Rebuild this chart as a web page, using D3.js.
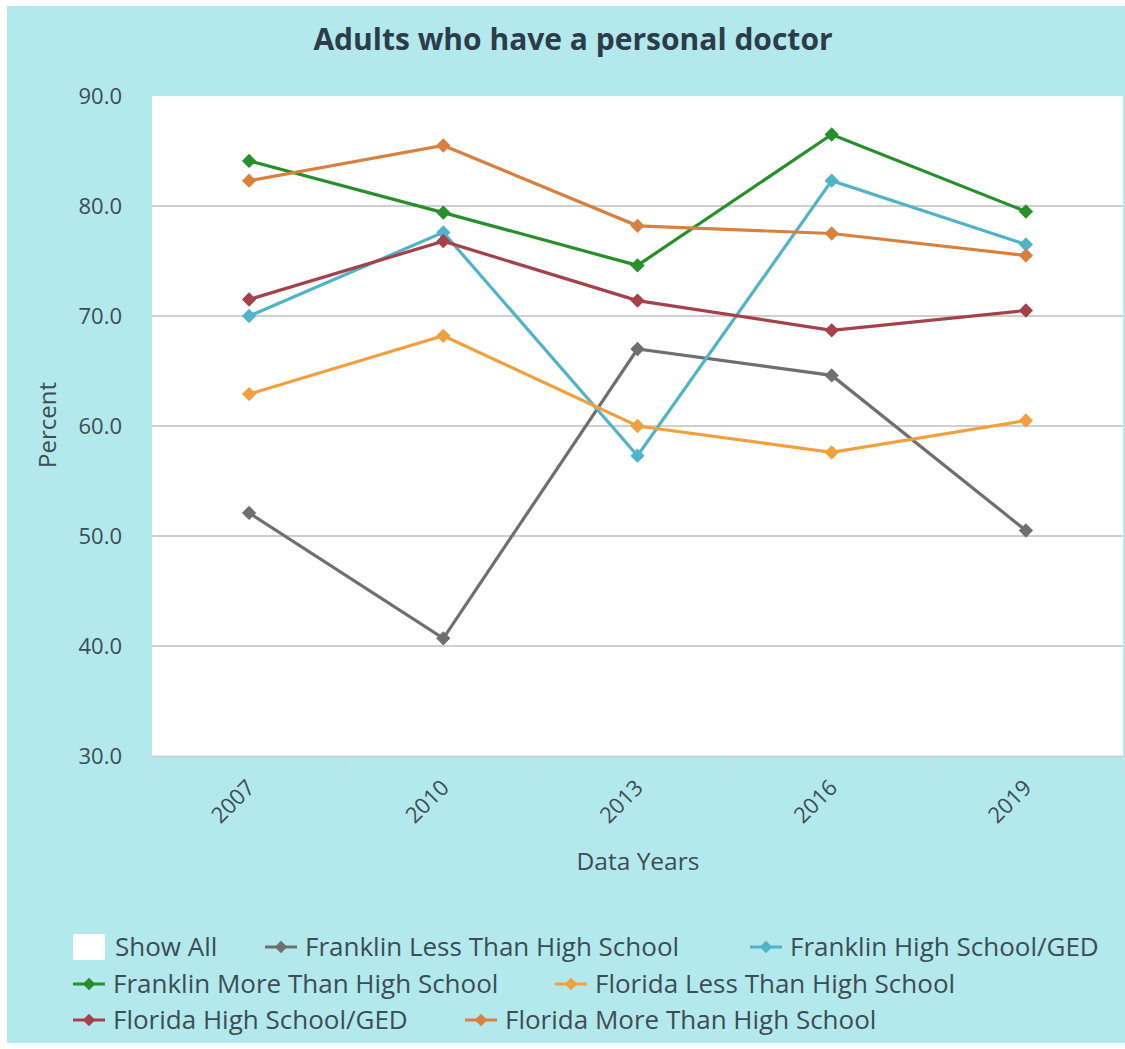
<!DOCTYPE html>
<html>
<head>
<meta charset="utf-8">
<script src="https://cdn.jsdelivr.net/npm/d3@7"></script>
<style>
  body { margin: 0; background: #fff; }
  text { font-family: "Open Sans", "Noto Sans", sans-serif; }
</style>
</head>
<body>
<div id="chart"></div>
<script>
// chart data
const years = ["2007", "2010", "2013", "2016", "2019"];
const seriesNames = [
    "Franklin Less Than High School",
    "Franklin High School/GED",
    "Franklin More Than High School",
    "Florida Less Than High School",
    "Florida High School/GED",
    "Florida More Than High School"
];
const franklinLess = [52.1, 40.7, 67.0, 64.6, 50.5];
const franklinHS = [70.0, 77.6, 57.3, 82.3, 76.5];
const franklinMore = [84.1, 79.4, 74.6, 86.5, 79.5];
const floridaLess = [62.9, 68.2, 60.0, 57.6, 60.5];
const floridaHS = [71.5, 76.8, 71.4, 68.7, 70.5];
const floridaMore = [82.3, 85.5, 78.2, 77.5, 75.5];
const yTicks = [30, 40, 50, 60, 70, 80, 90];

const seriesValues = [franklinLess, franklinHS, franklinMore, floridaLess, floridaHS, floridaMore];
const colors = ["#6f6f6f", "#4fb4c8", "#27902b", "#f2a03d", "#a5414a", "#d9803f"];

const width = 1125, height = 1049;
const plot = { left: 152, right: 1123, top: 96, bottom: 756 };
const textColor = "#3b4d55";

const svg = d3.select("#chart").append("svg")
    .attr("width", width)
    .attr("height", height);

// background panel
svg.append("rect")
    .attr("x", 7).attr("y", 6)
    .attr("width", width - 7).attr("height", 1037)
    .attr("fill", "#b3e9ec");

svg.append("rect")
    .attr("x", plot.left).attr("y", plot.top)
    .attr("width", plot.right - plot.left)
    .attr("height", plot.bottom - plot.top)
    .attr("fill", "#fff");

const x = d3.scaleBand().domain(years).range([plot.left, plot.right]);
const y = d3.scaleLinear().domain([30, 90]).range([plot.bottom, plot.top]);

// gridlines
svg.append("g")
    .selectAll("line")
    .data(yTicks.filter(t => t > 30 && t < 90))
    .join("line")
    .attr("x1", plot.left).attr("x2", plot.right)
    .attr("y1", d => y(d)).attr("y2", d => y(d))
    .attr("stroke", "#cfcfcf")
    .attr("stroke-width", 2);

// y axis
const yAxis = svg.append("g")
    .attr("transform", `translate(${plot.left},0)`)
    .call(d3.axisLeft(y).tickValues(yTicks).tickFormat(d3.format(".1f")).tickSize(0).tickPadding(30));
yAxis.select(".domain").remove();
yAxis.selectAll("text")
    .attr("font-size", 22)
    .attr("fill", textColor)
    .style("font-family", "'Open Sans', sans-serif");

// x axis
const xAxis = svg.append("g")
    .attr("transform", `translate(0,${plot.bottom})`)
    .call(d3.axisBottom(x).tickSize(0).tickFormat(""));
xAxis.select(".domain").attr("stroke", "#c8d4d6").attr("stroke-width", 2);

// tick marks at band edges
svg.append("g")
    .selectAll("line")
    .data(years.concat(["end"]))
    .join("line")
    .attr("x1", (d, i) => plot.left + i * x.bandwidth())
    .attr("x2", (d, i) => plot.left + i * x.bandwidth())
    .attr("y1", plot.bottom).attr("y2", plot.bottom + 17)
    .attr("stroke", "#c7dfe1")
    .attr("stroke-width", 1.5);

svg.append("g")
    .selectAll("text")
    .data(years)
    .join("text")
    .attr("transform", d => `translate(${x(d) + x.bandwidth() / 2 + 7},${plot.bottom + 33}) rotate(-45)`)
    .attr("text-anchor", "end")
    .attr("font-size", 22)
    .attr("fill", textColor)
    .text(d => d);

// title and axis titles
svg.append("text")
    .attr("x", 573).attr("y", 50)
    .attr("text-anchor", "middle")
    .attr("font-size", 30)
    .attr("font-weight", "bold")
    .attr("fill", "#2c3c4a")
    .text("Adults who have a personal doctor");

svg.append("text")
    .attr("transform", "translate(56,425) rotate(-90)")
    .attr("text-anchor", "middle")
    .attr("font-size", 24)
    .attr("fill", textColor)
    .text("Percent");

svg.append("text")
    .attr("x", 638).attr("y", 870)
    .attr("text-anchor", "middle")
    .attr("font-size", 24.5)
    .attr("fill", textColor)
    .text("Data Years");

// lines and markers
const line = d3.line()
    .x((d, i) => x(years[i]) + x.bandwidth() / 2)
    .y(d => y(d));

const diamond = d3.symbol().type(d3.symbolDiamond2).size(130);

seriesValues.forEach((vals, s) => {
    const g = svg.append("g");
    g.append("path")
        .datum(vals)
        .attr("d", line)
        .attr("fill", "none")
        .attr("stroke", colors[s])
        .attr("stroke-width", 3.2);
    g.selectAll("path.pt")
        .data(vals)
        .join("path")
        .attr("class", "pt")
        .attr("transform", (d, i) => `translate(${x(years[i]) + x.bandwidth() / 2},${y(d)})`)
        .attr("d", diamond)
        .attr("fill", colors[s]);
});

// legend
const legendItems = [
    { label: "Show All", box: true, x: 73, y: 947 },
    { label: seriesNames[0], s: 0, x: 265, y: 947 },
    { label: seriesNames[1], s: 1, x: 750, y: 947 },
    { label: seriesNames[2], s: 2, x: 73, y: 984 },
    { label: seriesNames[3], s: 3, x: 555, y: 984 },
    { label: seriesNames[4], s: 4, x: 73, y: 1020 },
    { label: seriesNames[5], s: 5, x: 465, y: 1020 }
];

const legend = svg.append("g");
legendItems.forEach(item => {
    const g = legend.append("g").attr("transform", `translate(${item.x},${item.y})`);
    if (item.box) {
        g.append("rect")
            .attr("x", 0).attr("y", -13)
            .attr("width", 32).attr("height", 26)
            .attr("rx", 2)
            .attr("fill", "#fff");
    } else {
        g.append("line")
            .attr("x1", 0).attr("x2", 32)
            .attr("y1", 0).attr("y2", 0)
            .attr("stroke", colors[item.s])
            .attr("stroke-width", 3);
        g.append("path")
            .attr("transform", "translate(16,0)")
            .attr("d", d3.symbol().type(d3.symbolDiamond2).size(100))
            .attr("fill", colors[item.s]);
    }
    g.append("text")
        .attr("x", item.box ? 42 : 40)
        .attr("dy", "0.35em")
        .attr("font-size", 26)
        .attr("fill", textColor)
        .text(item.label);
});
</script>
</body>
</html>
